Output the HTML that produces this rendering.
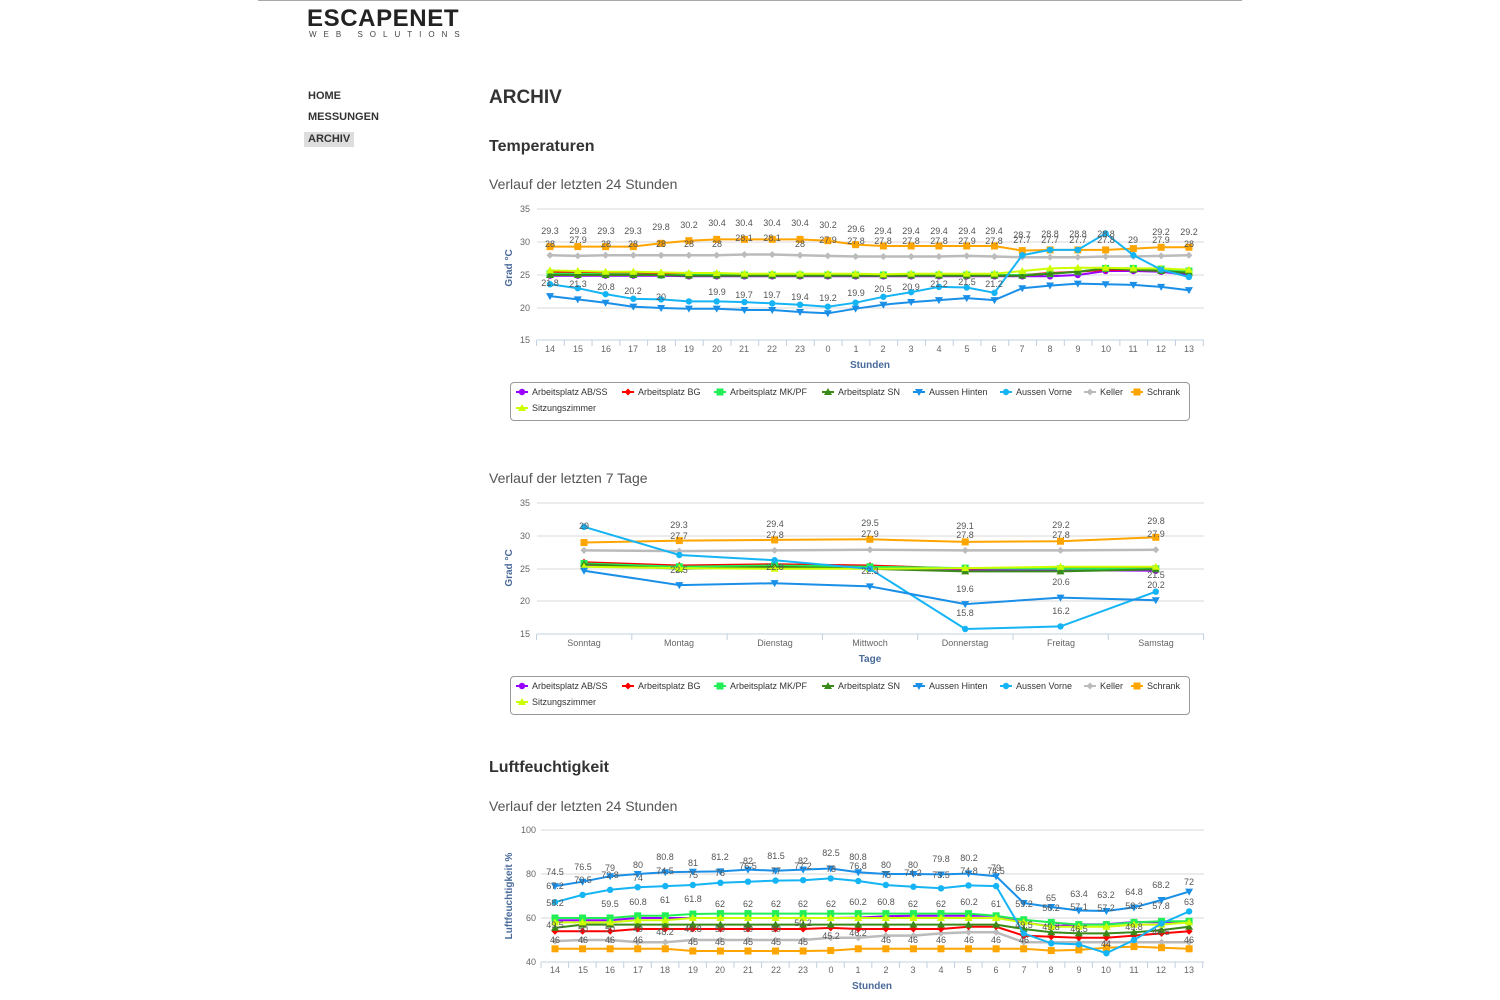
<!DOCTYPE html>
<html><head><meta charset="utf-8"><style>
body{margin:0;width:1500px;height:1000px;background:#fff;font-family:"Liberation Sans",sans-serif;position:relative;overflow:hidden}
.a{position:absolute;white-space:nowrap}
.nav{font-weight:bold;font-size:11px;color:#333;left:308px}
.h2{font-weight:bold;font-size:16px;color:#333;left:489px}
.sub{font-size:14px;color:#555;left:489px}
.leg{position:absolute;border:1px solid #999;border-radius:4px;left:510px;width:678px;height:37px}
svg text{font-family:"Liberation Sans",sans-serif}
</style></head><body>
<div class="a" style="left:258px;top:0;width:984px;height:1px;background:#aaa"></div>
<div class="a" style="left:307px;top:5px;font-size:24px;font-weight:bold;letter-spacing:0.6px;color:#222">ESCAPENET</div>
<div class="a" style="left:309px;top:30px;font-size:8px;letter-spacing:7px;color:#444">WEB SOLUTIONS</div>
<div class="a nav" style="top:90px">HOME</div>
<div class="a nav" style="top:111px">MESSUNGEN</div>
<div class="a" style="left:304px;top:132px;width:50px;height:15px;background:#ddd"></div>
<div class="a nav" style="top:133px">ARCHIV</div>
<div class="a" style="left:489px;top:87px;font-size:19px;font-weight:bold;color:#333">ARCHIV</div>
<div class="a h2" style="top:138px">Temperaturen</div>
<div class="a sub" style="top:176px">Verlauf der letzten 24 Stunden</div>
<div class="a sub" style="top:470px">Verlauf der letzten 7 Tage</div>
<div class="a h2" style="top:759px">Luftfeuchtigkeit</div>
<div class="a sub" style="top:798px">Verlauf der letzten 24 Stunden</div>
<div class="leg" style="top:382px"></div>
<div class="leg" style="top:676px"></div>
<svg id="s" class="a" style="left:0;top:0" width="1500" height="1000" font-size="9" fill="#555">
<g id="grid"></g><g id="lines"></g>
<g fill="#666" text-anchor="end" font-size="9">
<text x="530" y="212">35</text><text x="530" y="245">30</text><text x="530" y="278">25</text><text x="530" y="311">20</text><text x="530" y="343">15</text>
<text x="530" y="506">35</text><text x="530" y="539">30</text><text x="530" y="572">25</text><text x="530" y="604">20</text><text x="530" y="637">15</text>
<text x="536" y="833">100</text><text x="536" y="877">80</text><text x="536" y="921">60</text><text x="536" y="965">40</text>
</g>
<g fill="#4a6a9a" font-weight="bold" font-size="10" text-anchor="middle">
<text transform="translate(512,268) rotate(-90)">Grad °C</text>
<text transform="translate(512,568) rotate(-90)">Grad °C</text>
<text transform="translate(512,896) rotate(-90)">Luftfeuchtigkeit %</text>
<text x="870" y="368">Stunden</text><text x="870" y="662">Tage</text><text x="872" y="989">Stunden</text>
</g>
<g fill="#666" text-anchor="middle" font-size="9">
<text x="550" y="352">14</text><text x="578" y="352">15</text><text x="606" y="352">16</text><text x="633" y="352">17</text><text x="661" y="352">18</text><text x="689" y="352">19</text><text x="717" y="352">20</text><text x="744" y="352">21</text><text x="772" y="352">22</text><text x="800" y="352">23</text><text x="828" y="352">0</text><text x="856" y="352">1</text><text x="883" y="352">2</text><text x="911" y="352">3</text><text x="939" y="352">4</text><text x="967" y="352">5</text><text x="994" y="352">6</text><text x="1022" y="352">7</text><text x="1050" y="352">8</text><text x="1078" y="352">9</text><text x="1106" y="352">10</text><text x="1133" y="352">11</text><text x="1161" y="352">12</text><text x="1189" y="352">13</text>
<text x="584" y="646">Sonntag</text><text x="679" y="646">Montag</text><text x="775" y="646">Dienstag</text><text x="870" y="646">Mittwoch</text><text x="965" y="646">Donnerstag</text><text x="1061" y="646">Freitag</text><text x="1156" y="646">Samstag</text>
<text x="555" y="973">14</text><text x="583" y="973">15</text><text x="610" y="973">16</text><text x="638" y="973">17</text><text x="665" y="973">18</text><text x="693" y="973">19</text><text x="720" y="973">20</text><text x="748" y="973">21</text><text x="776" y="973">22</text><text x="803" y="973">23</text><text x="831" y="973">0</text><text x="858" y="973">1</text><text x="886" y="973">2</text><text x="913" y="973">3</text><text x="941" y="973">4</text><text x="969" y="973">5</text><text x="996" y="973">6</text><text x="1024" y="973">7</text><text x="1051" y="973">8</text><text x="1079" y="973">9</text><text x="1106" y="973">10</text><text x="1134" y="973">11</text><text x="1161" y="973">12</text><text x="1189" y="973">13</text>
</g>
<g fill="#555" text-anchor="middle" font-size="9">
<text x="550" y="234">29.3</text><text x="578" y="234">29.3</text><text x="606" y="234">29.3</text><text x="633" y="234">29.3</text><text x="661" y="230">29.8</text><text x="689" y="228">30.2</text><text x="717" y="226">30.4</text><text x="744" y="226">30.4</text><text x="772" y="226">30.4</text><text x="800" y="226">30.4</text><text x="828" y="228">30.2</text><text x="856" y="232">29.6</text><text x="883" y="234">29.4</text><text x="911" y="234">29.4</text><text x="939" y="234">29.4</text><text x="967" y="234">29.4</text><text x="994" y="234">29.4</text><text x="1022" y="238">28.7</text><text x="1050" y="237">28.8</text><text x="1078" y="237">28.8</text><text x="1106" y="237">28.8</text><text x="1133" y="243">29</text><text x="1161" y="235">29.2</text><text x="1189" y="235">29.2</text>
<text x="550" y="247">28</text><text x="578" y="243">27.9</text><text x="606" y="247">28</text><text x="633" y="247">28</text><text x="661" y="247">28</text><text x="689" y="247">28</text><text x="717" y="247">28</text><text x="744" y="241">28.1</text><text x="772" y="241">28.1</text><text x="800" y="247">28</text><text x="828" y="243">27.9</text><text x="856" y="244">27.8</text><text x="883" y="244">27.8</text><text x="911" y="244">27.8</text><text x="939" y="244">27.8</text><text x="967" y="244">27.9</text><text x="994" y="244">27.8</text><text x="1022" y="243">27.7</text><text x="1050" y="243">27.7</text><text x="1078" y="243">27.7</text><text x="1106" y="243">27.8</text><text x="1161" y="243">27.9</text><text x="1189" y="247">28</text>
<text x="550" y="286">21.8</text><text x="578" y="287">21.3</text><text x="606" y="290">20.8</text><text x="633" y="294">20.2</text><text x="661" y="300">20</text><text x="717" y="295">19.9</text><text x="744" y="298">19.7</text><text x="772" y="298">19.7</text><text x="800" y="300">19.4</text><text x="828" y="301">19.2</text><text x="856" y="296">19.9</text><text x="883" y="292">20.5</text><text x="911" y="290">20.9</text><text x="939" y="287">21.2</text><text x="967" y="285">21.5</text><text x="994" y="287">21.2</text>
<text x="584" y="529">29</text><text x="679" y="528">29.3</text><text x="775" y="527">29.4</text><text x="870" y="526">29.5</text><text x="965" y="529">29.1</text><text x="1061" y="528">29.2</text><text x="1156" y="524">29.8</text>
<text x="679" y="539">27.7</text><text x="775" y="538">27.8</text><text x="870" y="537">27.9</text><text x="965" y="538">27.8</text><text x="1061" y="538">27.8</text><text x="1156" y="537">27.9</text>
<text x="679" y="573">22.5</text><text x="775" y="570">22.8</text><text x="870" y="574">22.3</text><text x="965" y="592">19.6</text><text x="1061" y="585">20.6</text><text x="1156" y="578">21.5</text><text x="1156" y="588">20.2</text>
<text x="965" y="616">15.8</text><text x="1061" y="614">16.2</text>
<text x="555" y="875">74.5</text><text x="583" y="870">76.5</text><text x="610" y="871">79</text><text x="638" y="868">80</text><text x="665" y="860">80.8</text><text x="693" y="866">81</text><text x="720" y="860">81.2</text><text x="748" y="864">82</text><text x="776" y="859">81.5</text><text x="803" y="864">82</text><text x="831" y="856">82.5</text><text x="858" y="860">80.8</text><text x="886" y="868">80</text><text x="913" y="868">80</text><text x="941" y="862">79.8</text><text x="969" y="861">80.2</text><text x="996" y="871">79</text><text x="1024" y="891">66.8</text><text x="1051" y="901">65</text><text x="1079" y="897">63.4</text><text x="1106" y="898">63.2</text><text x="1134" y="895">64.8</text><text x="1161" y="888">68.2</text><text x="1189" y="885">72</text>
<text x="555" y="889">67.2</text><text x="583" y="883">70.5</text><text x="610" y="878">72.8</text><text x="638" y="881">74</text><text x="665" y="874">74.5</text><text x="693" y="878">75</text><text x="720" y="876">76</text><text x="748" y="869">76.5</text><text x="776" y="874">77</text><text x="803" y="869">77.2</text><text x="831" y="872">78</text><text x="858" y="869">76.8</text><text x="886" y="878">75</text><text x="913" y="876">74.2</text><text x="941" y="878">73.5</text><text x="969" y="874">74.8</text><text x="996" y="874">74.5</text>
<text x="555" y="943">46</text><text x="583" y="943">46</text><text x="610" y="943">46</text><text x="638" y="943">46</text><text x="665" y="935">48.2</text><text x="693" y="945">45</text><text x="720" y="945">45</text><text x="748" y="945">45</text><text x="776" y="945">45</text><text x="803" y="945">45</text><text x="831" y="939">45.2</text><text x="858" y="936">46.2</text><text x="886" y="943">46</text><text x="913" y="943">46</text><text x="941" y="943">46</text><text x="969" y="943">46</text><text x="996" y="943">46</text><text x="1024" y="943">46</text><text x="1106" y="947">44</text><text x="1189" y="943">46</text>
<text x="555" y="906">58.2</text><text x="610" y="907">59.5</text><text x="638" y="905">60.8</text><text x="665" y="903">61</text><text x="693" y="902">61.8</text><text x="720" y="907">62</text><text x="748" y="907">62</text><text x="776" y="907">62</text><text x="803" y="907">62</text><text x="831" y="907">62</text><text x="858" y="905">60.2</text><text x="886" y="905">60.8</text><text x="913" y="907">62</text><text x="941" y="907">62</text><text x="969" y="905">60.2</text><text x="996" y="907">61</text><text x="1024" y="907">59.2</text><text x="1051" y="911">56.2</text><text x="1079" y="910">57.1</text><text x="1106" y="911">57.2</text><text x="1134" y="909">58.2</text><text x="1161" y="909">57.8</text><text x="1189" y="905">63</text>
<text x="555" y="928">49.5</text><text x="583" y="932">50</text><text x="610" y="932">50</text><text x="638" y="932">49</text><text x="693" y="932">49.8</text><text x="720" y="932">50</text><text x="748" y="932">50</text><text x="776" y="932">50</text><text x="803" y="926">50.2</text><text x="1024" y="928">49.5</text><text x="1051" y="930">49.8</text><text x="1079" y="932">46.5</text><text x="1134" y="930">49.8</text><text x="1161" y="935">46.5</text>
</g>
<g font-size="9" fill="#333">
<g id="legs"></g>
<text x="532" y="395">Arbeitsplatz AB/SS</text><text x="638" y="395">Arbeitsplatz BG</text><text x="730" y="395">Arbeitsplatz MK/PF</text><text x="838" y="395">Arbeitsplatz SN</text><text x="929" y="395">Aussen Hinten</text><text x="1016" y="395">Aussen Vorne</text><text x="1100" y="395">Keller</text><text x="1147" y="395">Schrank</text><text x="532" y="411">Sitzungszimmer</text>
<text x="532" y="689">Arbeitsplatz AB/SS</text><text x="638" y="689">Arbeitsplatz BG</text><text x="730" y="689">Arbeitsplatz MK/PF</text><text x="838" y="689">Arbeitsplatz SN</text><text x="929" y="689">Aussen Hinten</text><text x="1016" y="689">Aussen Vorne</text><text x="1100" y="689">Keller</text><text x="1147" y="689">Schrank</text><text x="532" y="705">Sitzungszimmer</text>
</g>
</svg>
<script>
var NS="http://www.w3.org/2000/svg";
function el(p,t,a){var e=document.createElementNS(NS,t);for(var k in a)e.setAttribute(k,a[k]);p.appendChild(e);return e}
var G=document.getElementById("grid"),L=document.getElementById("lines"),LG=document.getElementById("legs");
var C={ab:"#9900ff",bg:"#ff0000",mk:"#22ee55",sn:"#3a8a1a",hi:"#1a8fe8",vo:"#14b4f5",ke:"#bbbbbb",sc:"#ffa500",si:"#ccff00"};
var M={ab:"c",bg:"d",mk:"s",sn:"t",hi:"v",vo:"c",ke:"d",sc:"s",si:"t"};
function mark(p,m,x,y,c){
 if(m=="c")el(p,"circle",{cx:x,cy:y,r:3.2,fill:c});
 else if(m=="s")el(p,"rect",{x:x-3.5,y:y-3.5,width:7,height:7,fill:c});
 else if(m=="d")el(p,"path",{d:"M"+x+" "+(y-3.5)+"l3.5 3.5l-3.5 3.5l-3.5-3.5z",fill:c});
 else if(m=="t")el(p,"path",{d:"M"+x+" "+(y-4)+"l4 7h-8z",fill:c});
 else el(p,"path",{d:"M"+x+" "+(y+4)+"l4-7h-8z",fill:c});
}
function chart(x1,x2,ys,ticks,x0,dx,n,yf,data){
 ys.forEach(function(y,i){el(G,"line",{x1:x1,x2:x2,y1:y,y2:y,stroke:i==ys.length-1?"#c0d0e0":"#d8d8d8","stroke-width":1})});
 ticks.forEach(function(t){el(G,"line",{x1:t,x2:t,y1:ys[ys.length-1],y2:ys[ys.length-1]+6,stroke:"#c0d0e0"})});
 ["ke","sc","ab","bg","mk","sn","si","vo","hi"].forEach(function(k){var d=data[k];if(!d)return;
  var pts=d.map(function(v,i){return (x0+dx*i).toFixed(1)+","+yf(v).toFixed(1)}).join(" ");
  el(L,"polyline",{points:pts,fill:"none",stroke:C[k],"stroke-width":k=="ke"?2.5:2});
  d.forEach(function(v,i){mark(L,M[k],x0+dx*i,yf(v),C[k])});});
}
function tk(a,s,n){var r=[];for(var i=0;i<=n;i++)r.push(a+s*i);return r}
chart(537,1204,[209,242,275,308,340],tk(536.5,27.78,24),550,27.78,24,function(v){return 242-(v-30)*6.6},{
sc:[29.3,29.3,29.3,29.3,29.8,30.2,30.4,30.4,30.4,30.4,30.2,29.6,29.4,29.4,29.4,29.4,29.4,28.7,28.8,28.8,28.8,29,29.2,29.2],
ke:[28,27.9,28,28,28,28,28,28.1,28.1,28,27.9,27.8,27.8,27.8,27.8,27.9,27.8,27.7,27.7,27.7,27.8,27.8,27.9,28],
si:[25.7,25.6,25.5,25.5,25.4,25.3,25.3,25.2,25.2,25.2,25.2,25.2,25.1,25.2,25.2,25.2,25.2,25.6,26,26.1,26.1,26,26,25.8],
bg:[25.5,25.4,25.3,25.3,25.2,25.1,25.1,25,25,25,25,25,25,25,25,25,25,25,25.3,25.5,25.8,25.8,25.6,25.4],
mk:[25.2,25.2,25.1,25.1,25,25,25,25,25,25,25,25,25,25,25,25,25,25,25.2,25.5,26,26,25.9,25.6],
sn:[25,25,25,25,25,24.9,24.9,24.9,24.9,24.9,24.9,24.9,24.9,24.9,24.9,24.9,24.9,24.9,25.2,25.5,26,25.8,25.6,25.3],
ab:[24.9,24.9,24.9,24.9,24.9,24.8,24.8,24.8,24.8,24.8,24.8,24.8,24.8,24.8,24.8,24.8,24.8,24.8,24.8,25,25.6,25.6,25.5,25],
vo:[23.6,23,22.1,21.4,21.3,21,21,20.9,20.7,20.5,20.2,20.8,21.7,22.4,23.2,23.1,22.3,28,28.8,28.8,31.3,28,25.8,24.7],
hi:[21.8,21.3,20.8,20.2,20,19.9,19.9,19.7,19.7,19.4,19.2,19.9,20.5,20.9,21.2,21.5,21.2,23,23.4,23.7,23.6,23.5,23.2,22.7]});
chart(537,1204,[503,536,569,601,634],tk(536.5,95.3,7),584,95.3,7,function(v){return 536-(v-30)*6.55},{
sc:[29,29.3,29.4,29.5,29.1,29.2,29.8],ke:[27.8,27.7,27.8,27.9,27.8,27.8,27.9],
bg:[26,25.5,25.7,25.5,25,25.2,25.1],mk:[25.8,25.3,25.5,25.3,25.1,25,25],sn:[25.7,25,25.3,25,24.6,24.6,24.9],
ab:[25.5,25.1,25.3,25.1,24.8,24.8,24.7],si:[25.3,25.1,25,25,25.1,25.3,25.3],
vo:[31.4,27.1,26.3,25,15.8,16.2,21.5],hi:[24.7,22.5,22.8,22.3,19.6,20.6,20.2]});
chart(541,1204,[830,874,918,962],tk(541,27.57,24),555,27.57,24,function(v){return 962-(v-40)*2.2},{
sc:[46,46,46,46,46,45,45,45,45,45,45.2,46,46,46,46,46,46,46,45.2,45.5,46.5,47,46.5,46],
ke:[49.5,50,50,49,49,50,50,50,50,50,51,51,52,52,53,53.5,53.5,49,49,49,49,49,49,49],
bg:[54,54,54,55,55,55,55,55,55,55,55.5,55,55,55,55,56,56,52,51.5,51,51,52,53,54],
sn:[55.5,57,57,57,57,57,57,57,57,57,57,57,57,57,57,57,57,55,53.5,53,53,53.5,54.5,56],
si:[58,58,58,59,59,60,60,60,60,60,60,60,60,60,60,60,60,58,56,56,56,57,57,58],
ab:[59,59,59,60,60,60,60,60,60,60,60,60.2,60.8,61,61,61,61,58,56.2,57.1,57.2,58.2,58,58.5],
mk:[60,60,60,61,61,61.8,62,62,62,62,62,62,62,62,62,62,61,59.2,58,57,57,58,58.5,58.5],
vo:[67.2,70.5,72.8,74,74.5,75,76,76.5,77,77.2,78,76.8,75,74.2,73.5,74.8,74.5,53,48.5,48,44,50,57.5,63],
hi:[74.5,76.5,79,80,80.8,81,81.2,82,81.5,82,82.5,80.8,80,80,79.8,80.2,79,66.8,65,63.4,63.2,64.8,68.2,72]});
[[522,"ab"],[628,"bg"],[720,"mk"],[828,"sn"],[919,"hi"],[1006,"vo"],[1090,"ke"],[1137,"sc"]].forEach(function(a){
 [392,686].forEach(function(y){el(LG,"line",{x1:a[0]-6,x2:a[0]+6,y1:y,y2:y,stroke:C[a[1]],"stroke-width":2});mark(LG,M[a[1]],a[0],y,C[a[1]])})});
[408,702].forEach(function(y){el(LG,"line",{x1:516,x2:528,y1:y,y2:y,stroke:C.si,"stroke-width":2});mark(LG,"t",522,y,C.si)});
</script>
</body></html>
